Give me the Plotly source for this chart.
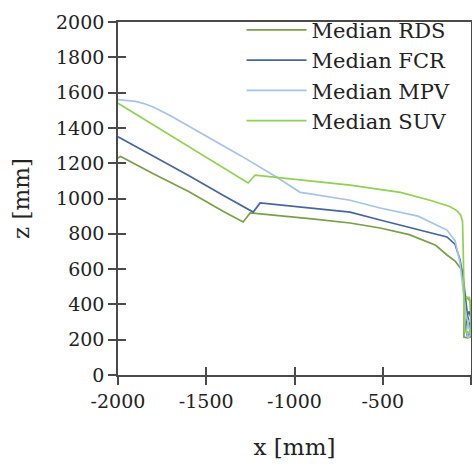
import plotly.graph_objects as go

# Data (x [mm], z [mm])
rds_x = [-2000, -1985, -1800, -1600, -1400, -1291, -1251, -1100, -900, -685, -515, -350, -200, -136, -90, -51, -42, -38, -40, -40, -20, -2, 0, -5, -30, -38]
rds_z = [1230, 1238, 1140, 1040, 925, 867, 918, 905, 885, 861, 833, 795, 735, 680, 645, 595, 520, 440, 330, 215, 210, 215, 300, 420, 445, 440]

fcr_x = [-2000, -1800, -1600, -1400, -1234, -1195, -1000, -850, -685, -515, -350, -200, -136, -90, -62, -45, -35, -28, -20, -10, -5, -20, -30, -25, -10, -2]
fcr_z = [1350, 1240, 1130, 1015, 923, 975, 955, 940, 923, 878, 835, 800, 782, 740, 652, 560, 470, 400, 340, 290, 240, 220, 260, 330, 360, 330]

mpv_x = [-2000, -1950, -1900, -1850, -1800, -1700, -1500, -1300, -1100, -968, -900, -685, -515, -300, -136, -90, -62, -48, -40, -30, -18, -8, -3, -15, -25, -15, -3]
mpv_z = [1560, 1557, 1550, 1537, 1518, 1468, 1355, 1240, 1120, 1035, 1025, 990, 946, 900, 821, 760, 635, 520, 420, 350, 300, 260, 230, 210, 250, 300, 320]

suv_x = [-2000, -1800, -1600, -1400, -1263, -1223, -1000, -685, -400, -232, -120, -79, -58, -48, -45, -43, -40, -38, -40, -35, -10, 0, 0, -10, -30]
suv_z = [1540, 1418, 1295, 1172, 1088, 1133, 1110, 1076, 1035, 990, 955, 930, 905, 870, 750, 600, 500, 430, 380, 250, 240, 260, 400, 440, 440]

x_ticks = [-2000, -1500, -1000, -500, 0]
x_tick_text = ["-2000", "-1500", "-1000", "-500", "0"]
z_ticks = [0, 200, 400, 600, 800, 1000, 1200, 1400, 1600, 1800, 2000]
z_tick_text = ["0", "200", "400", "600", "800", "1000", "1200", "1400", "1600", "1800", "2000"]

series = [
    ("Median RDS", rds_x, rds_z, "#78a046"),
    ("Median FCR", fcr_x, fcr_z, "#46679c"),
    ("Median MPV", mpv_x, mpv_z, "#a6c3e8"),
    ("Median SUV", suv_x, suv_z, "#8fd24f"),
]

fig = go.Figure()
for name, xs, zs, col in series:
    fig.add_trace(go.Scatter(x=xs, y=zs, mode="lines", name=name,
                             line=dict(color=col, width=1.7), cliponaxis=False))

# empty trace for the overlay axes that carry the inner half of the ticks
fig.add_trace(go.Scatter(x=[None], y=[None], xaxis="x2", yaxis="y2",
                         showlegend=False, hoverinfo="skip"))

fam = "DejaVu Serif, Liberation Serif, serif"
font = dict(family=fam, size=19, color="#222")
axcol = "#4a4a4a"

fig.update_layout(
    width=472, height=464,
    margin=dict(l=118, r=1, t=22, b=89),
    paper_bgcolor="white", plot_bgcolor="white",
    font=font,
    showlegend=True,
    legend=dict(x=0.35, y=1.035, xanchor="left", yanchor="top",
                bgcolor="rgba(0,0,0,0)", borderwidth=0,
                font=dict(family=fam, size=21, color="#222"),
                tracegroupgap=0, itemwidth=60),
    xaxis=dict(range=[-2000, 0], tickvals=x_ticks, ticktext=x_tick_text,
               showgrid=False, zeroline=False, automargin=False,
               showline=True, linecolor=axcol, linewidth=1.6, mirror=True,
               ticks="outside", ticklen=8, tickwidth=1.6, tickcolor=axcol,
               title=dict(text="x [mm]", standoff=28), tickfont=font),
    yaxis=dict(range=[0, 2000], tickvals=z_ticks, ticktext=z_tick_text,
               showgrid=False, zeroline=False, automargin=False,
               showline=True, linecolor=axcol, linewidth=1.6, mirror=True,
               ticks="outside", ticklen=8, tickwidth=1.6, tickcolor=axcol,
               title=dict(text="z [mm]", standoff=20), tickfont=font),
    xaxis2=dict(range=[-2000, 0], tickvals=x_ticks, overlaying="x", showgrid=False,
                zeroline=False, showline=False, showticklabels=False, automargin=False,
                ticks="inside", ticklen=8, tickwidth=1.6, tickcolor=axcol),
    yaxis2=dict(range=[0, 2000], tickvals=z_ticks, overlaying="y", showgrid=False,
                zeroline=False, showline=False, showticklabels=False, automargin=False,
                ticks="inside", ticklen=8, tickwidth=1.6, tickcolor=axcol),
)

fig.write_html("out.html", config={"displayModeBar": False},
               post_script="document.body.style.margin='0px';")
